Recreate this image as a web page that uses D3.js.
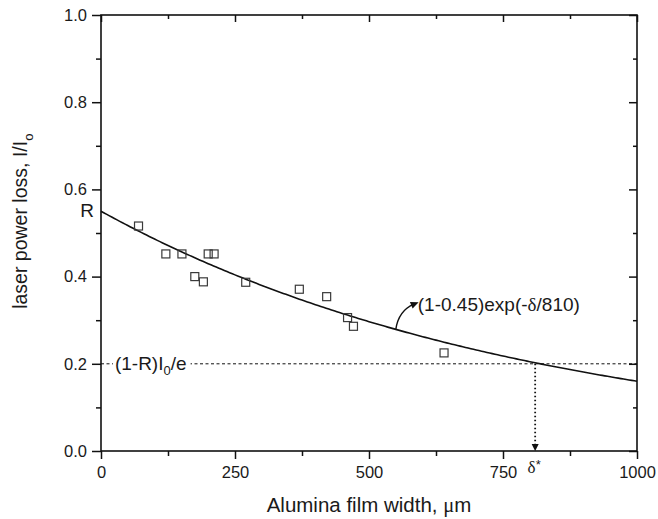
<!DOCTYPE html>
<html><head><meta charset="utf-8">
<script src="https://cdn.jsdelivr.net/npm/d3@7"></script>
<style>body{margin:0;background:#fff}svg{display:block}text{font-family:"Liberation Sans",Arial,sans-serif;fill:#1a1a1a}</style>
</head><body>
<svg id="c" width="658" height="519"></svg>
<script>
// ---- data ----
const widths = [70, 121, 151, 175, 191, 200, 211, 270, 370, 421, 460, 471, 640];
const losses = [0.516, 0.452, 0.452, 0.400, 0.388, 0.452, 0.452, 0.387, 0.371, 0.354, 0.306, 0.286, 0.225];
const xTicks = [0, 250, 500, 750, 1000];
const yTicks = [0.0, 0.2, 0.4, 0.6, 0.8, 1.0];
const fitA = 0.55;      // (1-0.45)
const fitL = 810;       // decay length
const thresh = 0.2;     // (1-R)I0/e
const deltaStar = 810;

const svg = d3.select("#c");
const m = {l:101, t:15, r:21, b:68};
const W = 658 - m.l - m.r, H = 519 - m.t - m.b;
const x = d3.scaleLinear().domain([0,1000]).range([m.l, m.l+W]);
const y = d3.scaleLinear().domain([0,1]).range([m.t+H, m.t]);
const ink = "#111";

const xMinor = d3.range(125, 1000, 250);
const yMinor = d3.range(0.1, 1.0, 0.2);

// axes
function styleAxis(g){ g.select(".domain").remove(); g.attr("font-size",16.5).attr("font-family","'Liberation Sans',Arial,sans-serif"); g.selectAll("line").attr("stroke",ink).attr("stroke-width",1.5); g.selectAll("text").attr("fill","#1a1a1a"); }
svg.append("g").attr("transform",`translate(0,${m.t+H})`)
  .call(d3.axisBottom(x).tickValues(xTicks).tickFormat(d3.format("d")).tickSize(8).tickPadding(7)).call(styleAxis);
svg.append("g").attr("transform",`translate(0,${m.t+H})`)
  .call(d3.axisBottom(x).tickValues(xMinor).tickFormat("").tickSize(5)).call(styleAxis);
svg.append("g").attr("transform",`translate(${m.l},0)`)
  .call(d3.axisLeft(y).tickValues(yTicks).tickFormat(d3.format(".1f")).tickSize(9).tickPadding(5)).call(styleAxis);
svg.append("g").attr("transform",`translate(${m.l},0)`)
  .call(d3.axisLeft(y).tickValues(yMinor).tickFormat("").tickSize(5)).call(styleAxis);
// top & right (inward)
svg.append("g").attr("transform",`translate(0,${m.t})`)
  .call(d3.axisBottom(x).tickValues(xTicks).tickFormat("").tickSize(7)).call(styleAxis);
svg.append("g").attr("transform",`translate(0,${m.t})`)
  .call(d3.axisBottom(x).tickValues(xMinor).tickFormat("").tickSize(4)).call(styleAxis);
svg.append("g").attr("transform",`translate(${m.l+W},0)`)
  .call(d3.axisLeft(y).tickValues(yTicks).tickFormat("").tickSize(8)).call(styleAxis);
svg.append("g").attr("transform",`translate(${m.l+W},0)`)
  .call(d3.axisLeft(y).tickValues(yMinor).tickFormat("").tickSize(4)).call(styleAxis);
// frame
svg.append("rect").attr("x",m.l).attr("y",m.t).attr("width",W).attr("height",H)
  .attr("fill","none").attr("stroke",ink).attr("stroke-width",1.6);

// threshold dashed line
svg.append("line").attr("x1",x(0)).attr("x2",x(1000)).attr("y1",y(thresh)).attr("y2",y(thresh))
  .attr("stroke",ink).attr("stroke-width",1).attr("stroke-dasharray","3,2.5");
const lblT = svg.append("text").attr("x",x(26)).attr("y",y(thresh)+6).style("font-size","19px");
lblT.append("tspan").text("(1-R)I");
lblT.append("tspan").attr("dy",5).style("font-size","13px").text("0");
lblT.append("tspan").attr("dy",-5).text("/e");
const bb = lblT.node().getBBox();
svg.insert("rect", () => lblT.node()).attr("x",bb.x-2).attr("y",bb.y).attr("width",bb.width+6).attr("height",bb.height).attr("fill","#fff");

// vertical dotted arrow
svg.append("line").attr("x1",x(deltaStar)).attr("x2",x(deltaStar)).attr("y1",y(thresh)).attr("y2",y(0)-6)
  .attr("stroke",ink).attr("stroke-width",1.8).attr("stroke-dasharray","1.5,2.5");
svg.append("path").attr("d",`M${x(deltaStar)-3.5},${y(0)-7}L${x(deltaStar)+3.5},${y(0)-7}L${x(deltaStar)},${y(0)}Z`).attr("fill",ink);

// fit curve
const xs = d3.range(0, 1001, 5);
svg.append("path").datum(xs).attr("fill","none").attr("stroke",ink).attr("stroke-width",1.6)
  .attr("d", d3.line().x(d=>x(d)).y(d=>y(fitA*Math.exp(-d/fitL))));

// data squares
const s = 8;
svg.append("g").selectAll("rect").data(widths).join("rect")
  .attr("x",(d)=>x(d)-s/2).attr("y",(d,i)=>y(losses[i])-s/2).attr("width",s).attr("height",s)
  .attr("fill","none").attr("stroke","#3a3a3a").attr("stroke-width",1.2);

// curved annotation arrow
const a0 = 550, ap = [x(a0), y(fitA*Math.exp(-a0/fitL))];
const ac = [x(555), y(0.322)], ae = [x(584), y(0.337)];
svg.append("path").attr("d",`M${ap[0]},${ap[1]}Q${ac[0]},${ac[1]} ${ae[0]},${ae[1]}`)
  .attr("fill","none").attr("stroke",ink).attr("stroke-width",1.4);
const ang = Math.atan2(ae[1]-ac[1], ae[0]-ac[0]);
const tip = [ae[0]+5*Math.cos(ang), ae[1]+5*Math.sin(ang)];
const hl = 8, hw = 3.5;
const bx = tip[0]-hl*Math.cos(ang), by = tip[1]-hl*Math.sin(ang);
svg.append("path").attr("d",`M${tip[0]},${tip[1]}L${bx-hw*Math.sin(ang)},${by+hw*Math.cos(ang)}L${bx+hw*Math.sin(ang)},${by-hw*Math.cos(ang)}Z`).attr("fill",ink);

const fl = svg.append("text").attr("x",x(591)).attr("y",y(0.322)).style("font-size","19px");
fl.append("tspan").text("(1-0.45)exp(-");
fl.append("tspan").style("font-family","'Liberation Serif',serif").text("δ");
fl.append("tspan").text("/810)");

// R label
svg.append("text").attr("x",m.l-7).attr("y",y(fitA)+6).attr("text-anchor","end").style("font-size","19px").text("R");

// delta star
const ds = svg.append("text").attr("x",x(deltaStar)-1).attr("y",y(0)+22).attr("text-anchor","middle").style("font-size","17px");
ds.append("tspan").style("font-family","'Liberation Serif',serif").text("δ");
ds.append("tspan").attr("dy",-4).style("font-size","13px").text("*");

// axis titles
const xt = svg.append("text").attr("x",x(500)).attr("y",512).attr("text-anchor","middle").style("font-size","20.5px");
xt.append("tspan").text("Alumina film width, ");
xt.append("tspan").style("font-family","'Liberation Serif',serif").text("μ");
xt.append("tspan").text("m");
const yt = svg.append("text").attr("transform",`translate(27,${y(0.527)}) rotate(-90)`).attr("text-anchor","middle").style("font-size","19.5px");
yt.append("tspan").text("laser power loss, I/I");
yt.append("tspan").attr("dy",6).style("font-size","13px").text("o");
</script>
</body></html>
